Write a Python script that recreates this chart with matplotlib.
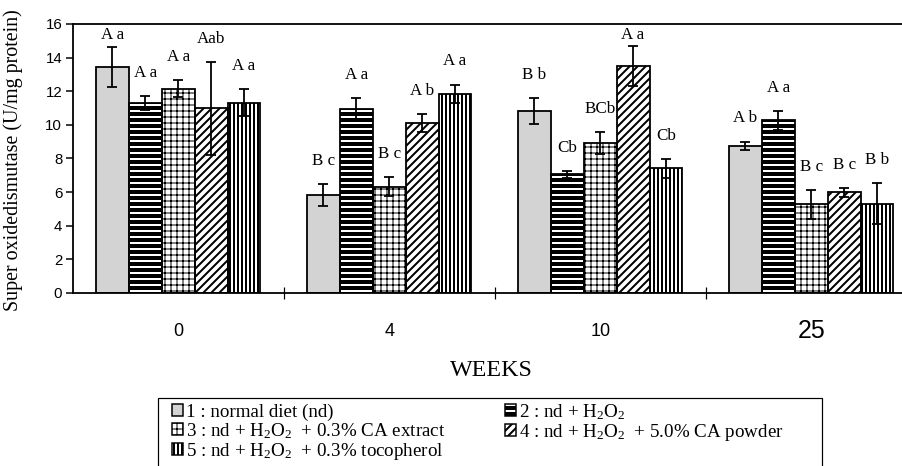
import matplotlib
matplotlib.use("Agg")
import matplotlib.pyplot as plt
import numpy as np
from matplotlib.patches import Patch, Rectangle
from matplotlib.legend_handler import HandlerTuple

weeks = ["0", "4", "10", "25"]

s1 = [13.43, 5.83, 10.81, 8.77]
s2 = [11.31, 10.95, 7.06, 10.27]
s3 = [12.16, 6.33, 8.93, 5.27]
s4 = [10.99, 10.10, 13.53, 5.99]
s5 = [11.31, 11.85, 7.42, 5.31]

e1 = [1.20, 0.63, 0.77, 0.24]
e2 = [0.43, 0.62, 0.20, 0.58]
e3 = [0.48, 0.55, 0.67, 0.88]
e4 = [2.76, 0.53, 1.19, 0.28]
e5 = [0.80, 0.55, 0.57, 1.22]

l1 = ["A a", "B c", "B b", "A b"]
l2 = ["A a", "A a", "Cb", "A a"]
l3 = ["A a", "B c", "BCb", "B c"]
l4 = ["Aab", "A b", "A a", "B c"]
l5 = ["A a", "A a", "Cb", "B b"]

legend_labels = [
    "1 : normal diet (nd)",
    r"2 : nd + H$_2$O$_2$",
    r"3 : nd + H$_2$O$_2$  + 0.3% CA extract",
    r"4 : nd + H$_2$O$_2$  + 5.0% CA powder",
    r"5 : nd + H$_2$O$_2$  + 0.3% tocopherol",
]

yticks = list(range(0, 17, 2))

plt.rcParams["font.family"] = ["Liberation Serif", "DejaVu Serif"]
plt.rcParams["mathtext.fontset"] = "custom"
plt.rcParams["mathtext.rm"] = "Liberation Serif"
plt.rcParams["mathtext.it"] = "Liberation Serif:italic"
plt.rcParams["mathtext.bf"] = "Liberation Serif:bold"

DPI = 72
fig = plt.figure(figsize=(902 / DPI, 466 / DPI), dpi=DPI)
ax = fig.add_axes([72.7 / 902, 173 / 466, 844 / 902, 269 / 466])

series = [s1, s2, s3, s4, s5]
errs = [e1, e2, e3, e4, e5]
labels = [l1, l2, l3, l4, l5]

x = np.arange(len(weeks))
w = 0.156
serif = "Liberation Serif"
sans = "Liberation Sans"

HATCH_LW = {"--": 2.0, "++": 1.0, "///": 2.0, "|||": 2.0}


def apply_hlw(patch, lw):
    if hasattr(patch, "set_hatch_linewidth"):
        patch.set_hatch_linewidth(lw)
    orig = patch.draw

    def draw(renderer, _orig=orig, _lw=lw):
        with plt.rc_context({"hatch.linewidth": _lw}):
            _orig(renderer)
    patch.draw = draw


styles = [
    dict(face="#d3d3d3", hatch=None, hcol="black"),
    dict(face="black", hatch="--", hcol="white"),
    dict(face="white", hatch="++", hcol="black"),
    dict(face="white", hatch="///", hcol="black"),
    dict(face="white", hatch="|||", hcol="black"),
]

handles = []
for i, (vals, err, labs, st) in enumerate(zip(series, errs, labels, styles)):
    xs = x + (i - 2) * w
    lw = HATCH_LW.get(st["hatch"], 1.0)
    with plt.rc_context({"hatch.linewidth": lw}):
        fill = ax.bar(xs, vals, width=w, color=st["face"], edgecolor=st["hcol"],
                      hatch=st["hatch"], linewidth=0, zorder=2)
    for p in fill:
        apply_hlw(p, lw)
    ax.bar(xs, vals, width=w, fill=False, edgecolor="black", linewidth=1.8, zorder=3)
    ax.errorbar(xs, vals, yerr=err, fmt="none", ecolor="black", elinewidth=1.8,
                capsize=5, capthick=1.8, zorder=4)
    for xi, v, e, t in zip(xs, vals, err, labs):
        ty = min(v + e + 1.37, 15.35)
        ax.text(xi, ty, t, ha="center", va="center", fontsize=17,
                family=serif, zorder=5)
    with plt.rc_context({"hatch.linewidth": lw}):
        hp = Patch(facecolor=st["face"], edgecolor=st["hcol"], hatch=st["hatch"],
                   linewidth=0)
    outline = Patch(facecolor="none", edgecolor="black", linewidth=1.5)
    handles.append((hp, outline))

ax.set_xlim(-0.5, 3.5)
ax.set_ylim(0, 16)
ax.set_yticks(yticks)
ax.set_yticklabels([str(t) for t in yticks], fontsize=15, family=sans)
ax.tick_params(axis="y", direction="out", length=7.5, width=1.5, pad=3)

ax.set_xticks(x)
ax.set_xticklabels(weeks, family=sans)
ax.set_xticks([0.5, 1.5, 2.5], minor=True)
ax.tick_params(axis="x", which="major", length=0, pad=38)
ax.tick_params(axis="x", which="minor", direction="inout", length=12, width=1.2)
for k, lbl in enumerate(ax.get_xticklabels()):
    lbl.set_va("center")
    lbl.set_fontsize(25 if k == 3 else 18)

for side in ["left", "top", "bottom"]:
    ax.spines[side].set_linewidth(1.8)
ax.spines["right"].set_visible(False)

fig.text(13 / 902, 1 - 160 / 466, "Super oxidedismutase (U/mg protein)",
         rotation=90, ha="center", va="center", fontsize=20, family=serif)
fig.text(491 / 902, 1 - 371 / 466, "WEEKS", ha="center", va="center",
         fontsize=24, family=serif)

order = [0, 2, 4, 1, 3]
leg = fig.legend([handles[k] for k in order], [legend_labels[k] for k in order],
                 handler_map={tuple: HandlerTuple(ndivide=1, pad=0)},
                 loc="upper left", bbox_to_anchor=(172 / 902, 1 - 402 / 466),
                 bbox_transform=fig.transFigure, ncol=2,
                 prop={"family": serif, "size": 19}, frameon=False,
                 borderpad=0.0, labelspacing=0.0,
                 handlelength=0.6, handleheight=0.6, handletextpad=0.15,
                 columnspacing=3.1, borderaxespad=0)

for art in leg.findobj(Rectangle):
    h = art.get_hatch()
    if h in HATCH_LW:
        apply_hlw(art, HATCH_LW[h])

frame = Rectangle((158 / 902, -0.05), (822 - 158) / 902, 1 - 398 / 466 + 0.05,
                  transform=fig.transFigure, fill=False, edgecolor="black",
                  linewidth=1.2)
fig.add_artist(frame)

fig.savefig("out.png", dpi=DPI)
